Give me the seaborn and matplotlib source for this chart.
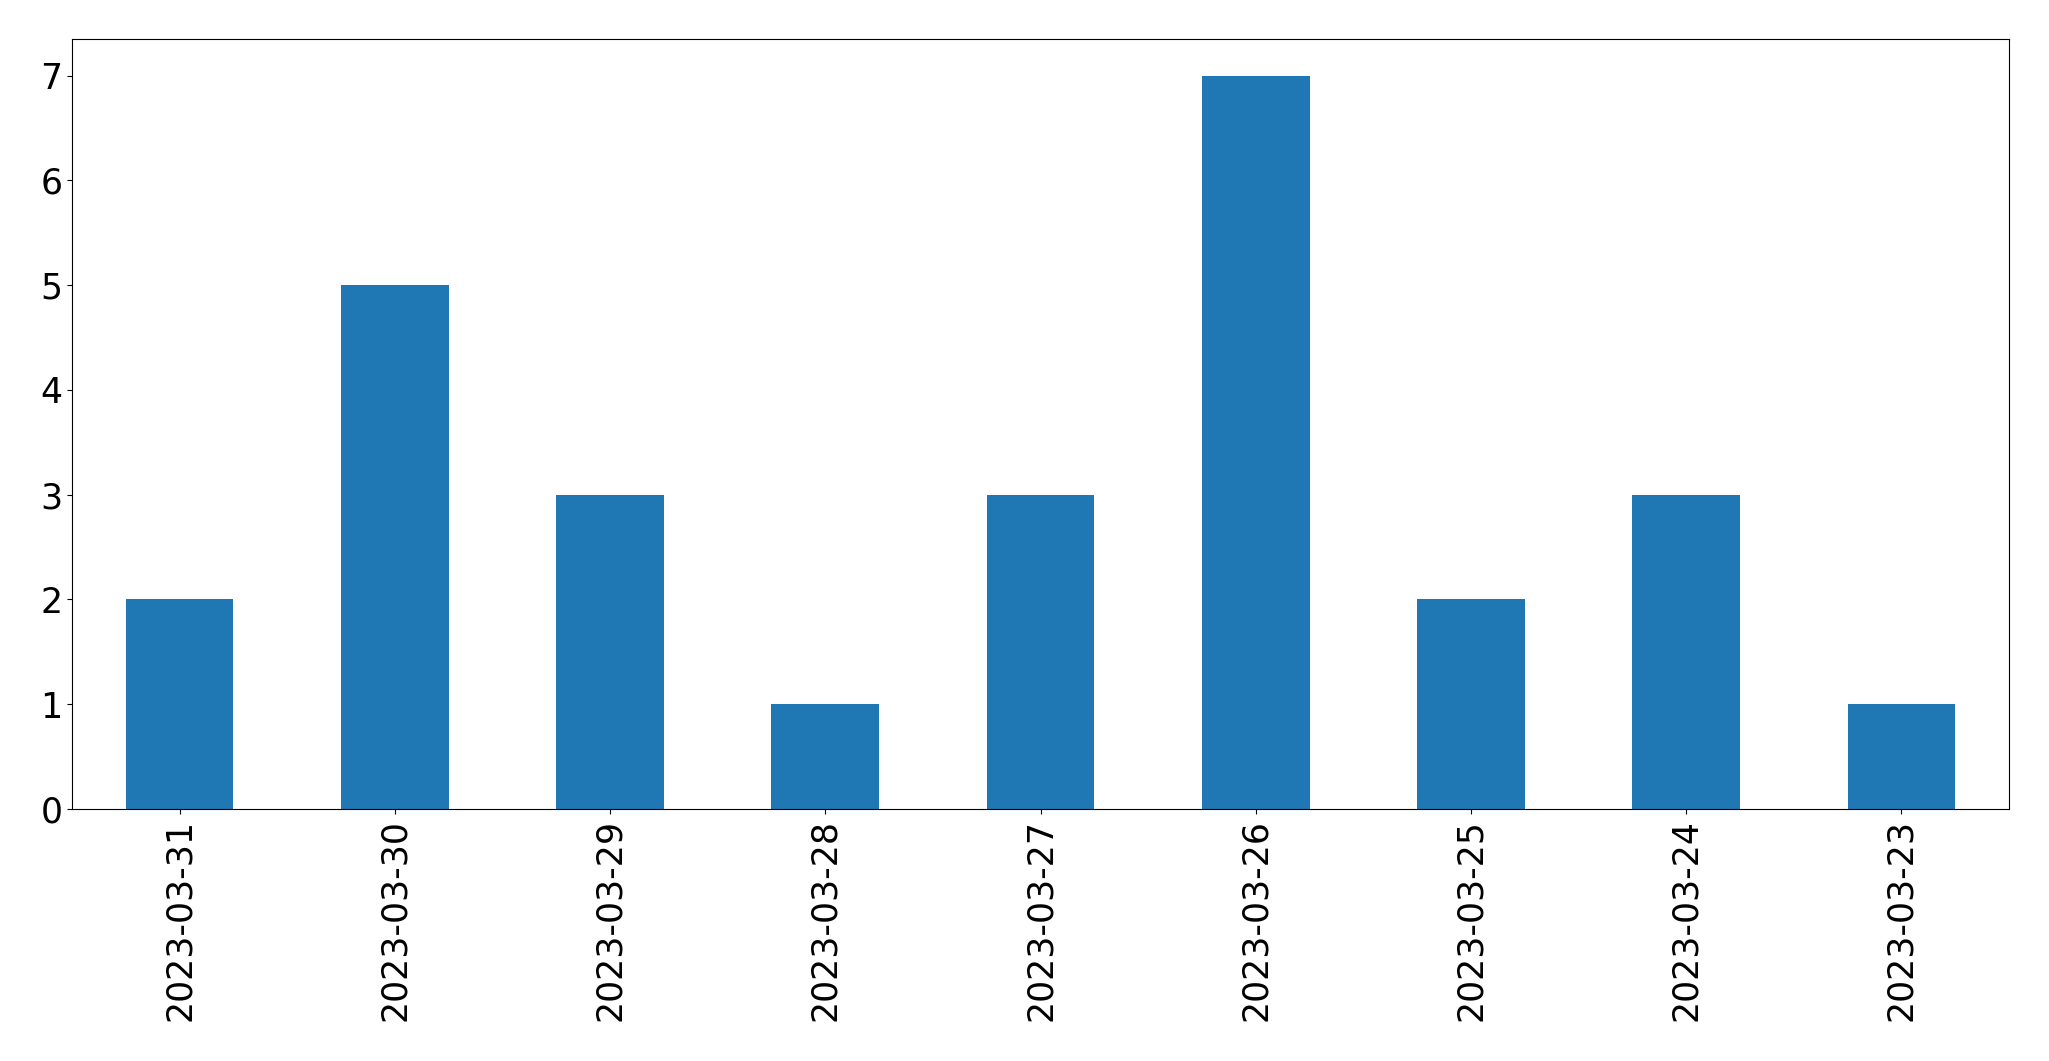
import matplotlib
matplotlib.use("Agg")
import matplotlib.pyplot as plt
import seaborn as sns
import pandas as pd

dates = ["2023-03-31", "2023-03-30", "2023-03-29", "2023-03-28", "2023-03-27",
         "2023-03-26", "2023-03-25", "2023-03-24", "2023-03-23"]
counts = [2, 5, 3, 1, 3, 7, 2, 3, 1]

df = pd.DataFrame({"date": dates, "count": counts})

fig = plt.figure(figsize=(20.49, 10.61), dpi=100)
ax = fig.add_axes([72/2049, 1 - 809/1061, (2009-72)/2049, (809-39)/1061])
sns.barplot(data=df, x="date", y="count", order=dates, color="#1f77b4",
            saturation=1, width=0.5, ax=ax)
ax.set_xlim(-0.5, len(dates) - 0.5)
ax.set_ylim(0, 7.35)
ax.set_xlabel("")
ax.set_ylabel("")
ax.tick_params(axis="both", labelsize=25)
plt.setp(ax.get_xticklabels(), rotation=90)
fig.savefig("out.png", dpi=100)
